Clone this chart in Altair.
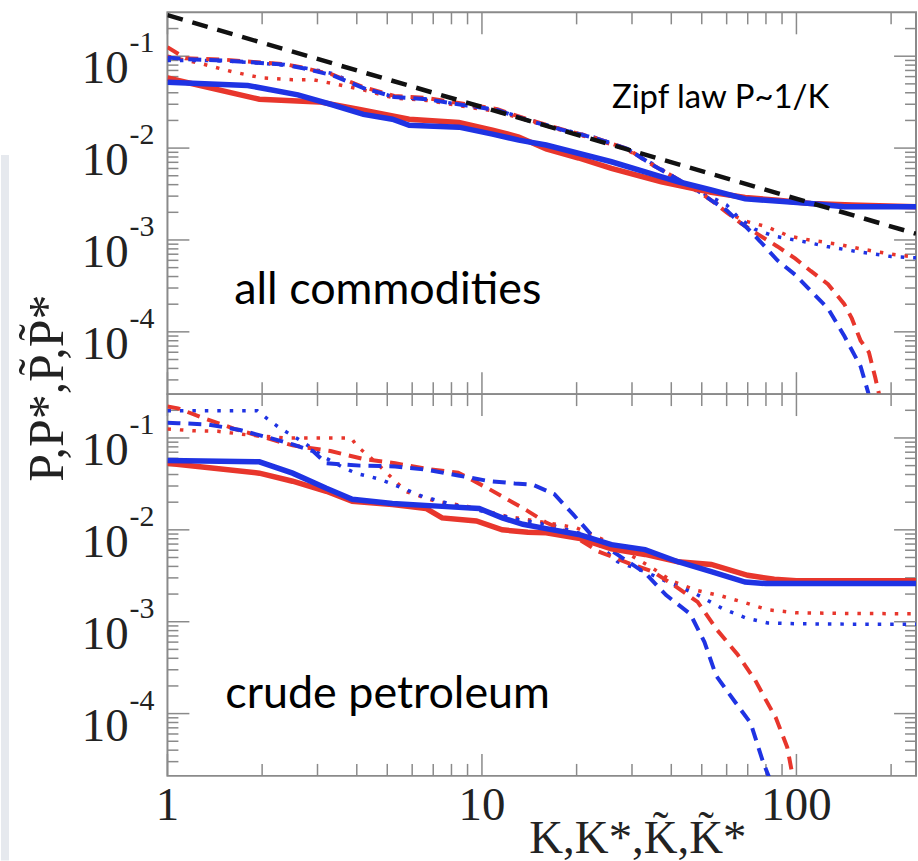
import altair as alt
import pandas as pd

# ---------------------------------------------------------------- scales
K_MIN, K_MAX = 1, 240
P_MIN, P_MAX = 2.1e-5, 0.3
W, H = 751, 383

RED = "#e8362c"
BLUE = "#1f33e3"
FRAME = "#8a8a8a"

# ------------------------------------------------ panel 1: all commodities
zipf_k = [1, 240]
zipf_p = [0.28, 0.00117]

top_red_solid_k = [1, 1.96, 3.04, 4.08, 5.87, 8.45, 10.8, 13.1, 16, 20.3, 25.8, 37.2, 53.6, 68.7, 87.4, 111, 150, 240]
top_red_solid_p = [0.058, 0.034, 0.0318, 0.0264, 0.0206, 0.019, 0.0157, 0.0132, 0.0098, 0.0078, 0.0060, 0.0043, 0.0033, 0.0029, 0.0027, 0.0025, 0.0024, 0.0023]

top_blue_solid_k = [1, 1.8, 2.6, 3.3, 4.2, 5.19, 5.87, 8.45, 10.8, 13.1, 16, 25.8, 42.1, 53.6, 68.7, 111, 142, 240]
top_blue_solid_p = [0.052, 0.048, 0.038, 0.030, 0.0233, 0.0206, 0.0177, 0.0169, 0.0142, 0.0122, 0.0108, 0.0071, 0.0043, 0.0035, 0.0028, 0.0025, 0.0023, 0.0023]

top_red_dash_k = [1, 1.14, 1.5, 1.93, 2.36, 2.7, 3.35, 4.2, 5.26, 6.69, 8.96, 11.2, 14, 18, 23, 29, 35, 41, 47.6, 53.6, 60, 67, 74, 87, 99, 111, 126, 142, 150, 160, 170, 178, 185]
top_red_dash_p = [0.125, 0.095, 0.092, 0.086, 0.082, 0.075, 0.063, 0.046, 0.037, 0.035, 0.030, 0.0265, 0.0205, 0.016, 0.0128, 0.0098, 0.0065, 0.0048, 0.0036, 0.0027, 0.0020, 0.0015, 0.0012, 0.00085, 0.00063, 0.00046, 0.00033, 0.0002, 0.00014, 0.00008, 0.00006, 0.000032, 0.000018]

top_blue_dash_k = [1, 1.14, 1.5, 1.93, 2.36, 2.7, 3.35, 4.2, 5.26, 6.69, 8.96, 11.2, 14, 18, 23, 29, 35, 41, 47.6, 53.6, 60, 64, 69, 77, 87, 99, 111, 126, 142, 160, 169, 176]
top_blue_dash_p = [0.097, 0.093, 0.090, 0.085, 0.081, 0.074, 0.062, 0.045, 0.036, 0.034, 0.029, 0.026, 0.020, 0.0158, 0.0128, 0.0098, 0.0065, 0.0048, 0.0036, 0.0027, 0.0021, 0.0017, 0.0014, 0.00095, 0.0006, 0.00042, 0.00028, 0.00018, 0.00009, 0.000042, 0.000022, 0.000012]

top_red_dot_k = [1, 1.3, 1.6, 2.0, 2.5, 2.9, 3.4, 4.2, 5.26, 6.69, 8.96, 11.2, 14, 18, 23, 29, 35, 41, 47, 55, 62, 69, 80, 95, 110, 135, 160, 200, 240]
top_red_dot_p = [0.1, 0.082, 0.068, 0.058, 0.0555, 0.0555, 0.05, 0.043, 0.035, 0.033, 0.028, 0.025, 0.02, 0.0155, 0.0125, 0.0095, 0.0066, 0.0048, 0.0036, 0.0026, 0.0019, 0.0016, 0.0014, 0.0011, 0.001, 0.0009, 0.0008, 0.0007, 0.00065]

top_blue_dot_k = [1, 1.3, 1.6, 2.0, 2.5, 2.9, 3.4, 4.2, 5.26, 6.69, 8.96, 11.2, 14, 18, 23, 29, 35, 41, 47, 55, 60, 66, 74, 85, 107, 125, 155, 200, 240]
top_blue_dot_p = [0.09, 0.09, 0.088, 0.084, 0.078, 0.072, 0.064, 0.045, 0.036, 0.034, 0.029, 0.026, 0.0205, 0.016, 0.013, 0.0098, 0.0067, 0.0048, 0.0036, 0.0028, 0.0024, 0.0017, 0.0013, 0.0011, 0.00095, 0.00085, 0.00075, 0.00066, 0.00064]

# ----------------------------------------------- panel 2: crude petroleum
bot_red_solid_k = [1, 1.96, 2.5, 3.2, 3.87, 5.19, 6.64, 7.47, 9.6, 11.6, 14, 16, 20.3, 25.8, 33, 42, 53.6, 70, 85, 100, 240]
bot_red_solid_p = [0.053, 0.0414, 0.0338, 0.0263, 0.0204, 0.0189, 0.0171, 0.0135, 0.0125, 0.0100, 0.0094, 0.0093, 0.0081, 0.0062, 0.0054, 0.0045, 0.0042, 0.0032, 0.0029, 0.0028, 0.0028]

bot_blue_solid_k = [1, 1.96, 2.5, 3.2, 3.87, 5.19, 7.47, 9.8, 11.6, 13.5, 16, 20.3, 25.8, 33, 42, 53.6, 68.7, 80, 240]
bot_blue_solid_p = [0.057, 0.055, 0.0414, 0.0283, 0.0215, 0.0194, 0.018, 0.0171, 0.0135, 0.0115, 0.0103, 0.0089, 0.0069, 0.0061, 0.0045, 0.0035, 0.0027, 0.0026, 0.0026]

bot_red_dash_k = [1, 1.08, 1.3, 1.64, 2.06, 2.5, 3.3, 4.2, 5.3, 6.7, 8.4, 10.5, 12.5, 14, 16, 18.5, 23.5, 30, 35, 41.5, 48.5, 56, 65, 74, 80, 86, 93.5, 97, 100]
bot_red_dash_p = [0.22, 0.21, 0.165, 0.125, 0.1, 0.083, 0.072, 0.059, 0.053, 0.046, 0.042, 0.028, 0.02, 0.016, 0.012, 0.0096, 0.0058, 0.0042, 0.0035, 0.0024, 0.00164, 0.00081, 0.00044, 0.00023, 0.00014, 0.00009, 0.000043, 0.000022, 0.000012]

bot_blue_dash_k = [1, 1.08, 1.35, 1.7, 2.12, 2.5, 2.9, 3.2, 4.1, 5.3, 6.7, 8.4, 10.5, 12.7, 14.5, 17, 19.5, 22.7, 26.7, 33, 38.5, 46, 51, 55.5, 64, 71.5, 78.5, 83]
bot_blue_dash_p = [0.146, 0.145, 0.14, 0.122, 0.1, 0.085, 0.072, 0.053, 0.05, 0.049, 0.045, 0.039, 0.034, 0.032, 0.031, 0.0244, 0.0147, 0.0082, 0.0055, 0.0034, 0.00195, 0.00121, 0.0006, 0.00026, 0.000132, 0.000079, 0.000029, 0.000018]

bot_red_dot_k = [1, 1.2, 1.45, 1.8, 2.36, 3.0, 3.84, 4.0, 4.45, 4.8, 5.25, 5.75, 7.15, 9, 12, 16, 20, 25, 30, 35, 40, 48, 58, 69, 81, 100, 150, 240]
bot_red_dot_p = [0.125, 0.12, 0.118, 0.108, 0.1, 0.1, 0.1, 0.082, 0.06, 0.047, 0.035, 0.026, 0.0204, 0.018, 0.014, 0.012, 0.0105, 0.0075, 0.0052, 0.0038, 0.0028, 0.0022, 0.0019, 0.0016, 0.00135, 0.00125, 0.00123, 0.00122]

bot_blue_dot_k = [1, 1.2, 1.93, 2.08, 2.27, 2.7, 3.2, 3.65, 4.0, 4.4, 4.8, 5.25, 6.5, 8, 10, 13, 17, 22, 27, 33, 40, 48, 58, 69, 81, 100, 150, 240]
bot_blue_dot_p = [0.198, 0.198, 0.198, 0.161, 0.129, 0.09, 0.06, 0.047, 0.041, 0.038, 0.035, 0.031, 0.023, 0.019, 0.016, 0.013, 0.011, 0.0085, 0.0045, 0.0035, 0.0026, 0.002, 0.0014, 0.0011, 0.00097, 0.00095, 0.00094, 0.00094]

# ---------------------------------------------------------------- axes
major_k = [1, 10, 100]
minor_k = [2, 3, 4, 5, 6, 7, 8, 9, 20, 30, 40, 50, 60, 70, 80, 90, 200]
major_p = [1e-1, 1e-2, 1e-3, 1e-4]
minor_p = [m * 10.0 ** e for e in range(-5, 0) for m in range(2, 10)
           if P_MIN <= m * 10.0 ** e <= P_MAX]
y_label_base = ["10", "10", "10", "10"]
y_label_exp = ["-1", "-2", "-3", "-4"]
x_label_text = ["1", "10", "100"]

x_title = "K,K*,K\u0303,K\u0303*"
y_title = "P,P*,P\u0303,P\u0303*"
zipf_note = "Zipf law P~1/K"
top_name = "all commodities"
bottom_name = "crude petroleum"

SERIF = "Liberation Serif"
SANS = "Lato"

x_scale = alt.Scale(type="log", domain=[K_MIN, K_MAX], nice=False)
y_scale = alt.Scale(type="log", domain=[P_MIN, P_MAX], nice=False)
X = alt.X("K:Q", scale=x_scale, axis=None)
Y = alt.Y("P:Q", scale=y_scale, axis=None)

STYLES = {
    "solid": dict(strokeWidth=5.5),
    "dash": dict(strokeWidth=4, strokeDash=[13, 8]),
    "dot": dict(strokeWidth=3.5, strokeDash=[3.5, 9]),
    "zipf": dict(strokeWidth=4.5, strokeDash=[16, 10]),
}


def curve(k, p, color, style):
    return alt.Chart(pd.DataFrame({"K": k, "P": p})).mark_line(
        color=color, clip=True, strokeCap="butt", **STYLES[style]
    ).encode(x=X, y=Y)


def ticks():
    """Inward ticks on all four sides of a panel."""
    layers = []
    rule = dict(color=FRAME, strokeWidth=1.5)
    for vals, size in ((major_k, 22), (minor_k, 12)):
        d = alt.Chart(pd.DataFrame({"K": vals}))
        layers.append(d.mark_rule(**rule).encode(x=X, y=alt.value(0), y2=alt.value(size)))
        layers.append(d.mark_rule(**rule).encode(x=X, y=alt.value(H), y2=alt.value(H - size)))
    for vals, size in ((major_p, 22), (minor_p, 11)):
        d = alt.Chart(pd.DataFrame({"P": vals}))
        layers.append(d.mark_rule(**rule).encode(y=Y, x=alt.value(0), x2=alt.value(size)))
        layers.append(d.mark_rule(**rule).encode(y=Y, x=alt.value(W), x2=alt.value(W - size)))
    return layers


def y_labels():
    d = alt.Chart(pd.DataFrame({"P": major_p, "base": y_label_base, "exp": y_label_exp}))
    base = d.mark_text(font=SERIF, fontSize=47, color="#222", align="right",
                       baseline="alphabetic", dy=27).encode(y=Y, x=alt.value(-39), text="base:N")
    exp = d.mark_text(font=SERIF, fontSize=30, color="#222", align="left",
                      baseline="alphabetic", dy=-4).encode(y=Y, x=alt.value(-38), text="exp:N")
    return [base, exp]


def note(text, x, y, size, font=SANS, **kw):
    return alt.Chart(pd.DataFrame({"t": [text]})).mark_text(
        font=font, fontSize=size, color="black", align="left", baseline="alphabetic", **kw
    ).encode(x=alt.value(x), y=alt.value(y), text="t:N")


# light slide strip at the far left
strip = alt.Chart(pd.DataFrame({"t": [0]})).mark_rect(color="#e6e9ee").encode(
    x=alt.value(-167), x2=alt.value(-159), y=alt.value(143), y2=alt.value(851)
)

y_title_mark = alt.Chart(pd.DataFrame({"t": [y_title]})).mark_text(
    font=SERIF, fontSize=50, color="#222", angle=270, align="center", baseline="alphabetic"
).encode(x=alt.value(-105), y=alt.value(377), text="t:N")

top = alt.layer(
    strip,
    *ticks(),
    curve(top_red_dot_k, top_red_dot_p, RED, "dot"),
    curve(top_blue_dot_k, top_blue_dot_p, BLUE, "dot"),
    curve(top_red_dash_k, top_red_dash_p, RED, "dash"),
    curve(top_blue_dash_k, top_blue_dash_p, BLUE, "dash"),
    curve(top_red_solid_k, top_red_solid_p, RED, "solid"),
    curve(top_blue_solid_k, top_blue_solid_p, BLUE, "solid"),
    curve(zipf_k, zipf_p, "#111111", "zipf"),
    *y_labels(),
    note(zipf_note, 446, 96, 33),
    note(top_name, 67, 293, 45),
    y_title_mark,
).properties(width=W, height=H)

x_labels = alt.Chart(pd.DataFrame({"K": major_k, "t": x_label_text})).mark_text(
    font=SERIF, fontSize=47, color="#222", align="center", baseline="alphabetic"
).encode(x=X, y=alt.value(427), text="t:N")

x_title_mark = alt.Chart(pd.DataFrame({"t": [x_title]})).mark_text(
    font=SERIF, fontSize=47, color="#222", align="center", baseline="alphabetic"
).encode(x=alt.value(472), y=alt.value(460), text="t:N")

bottom = alt.layer(
    *ticks(),
    curve(bot_red_dot_k, bot_red_dot_p, RED, "dot"),
    curve(bot_blue_dot_k, bot_blue_dot_p, BLUE, "dot"),
    curve(bot_red_dash_k, bot_red_dash_p, RED, "dash"),
    curve(bot_blue_dash_k, bot_blue_dash_p, BLUE, "dash"),
    curve(bot_red_solid_k, bot_red_solid_p, RED, "solid"),
    curve(bot_blue_solid_k, bot_blue_solid_p, BLUE, "solid"),
    *y_labels(),
    x_labels,
    x_title_mark,
    note(bottom_name, 58, 315, 45),
).properties(width=W, height=H)

chart = alt.vconcat(top, bottom, spacing=0, bounds="flush").properties(
    padding={"left": 0, "top": 9, "right": 0, "bottom": 0},
    background="white",
).configure_view(stroke=FRAME, strokeWidth=2)

chart.save("out.html", embed_options={"renderer": "svg", "actions": False})
